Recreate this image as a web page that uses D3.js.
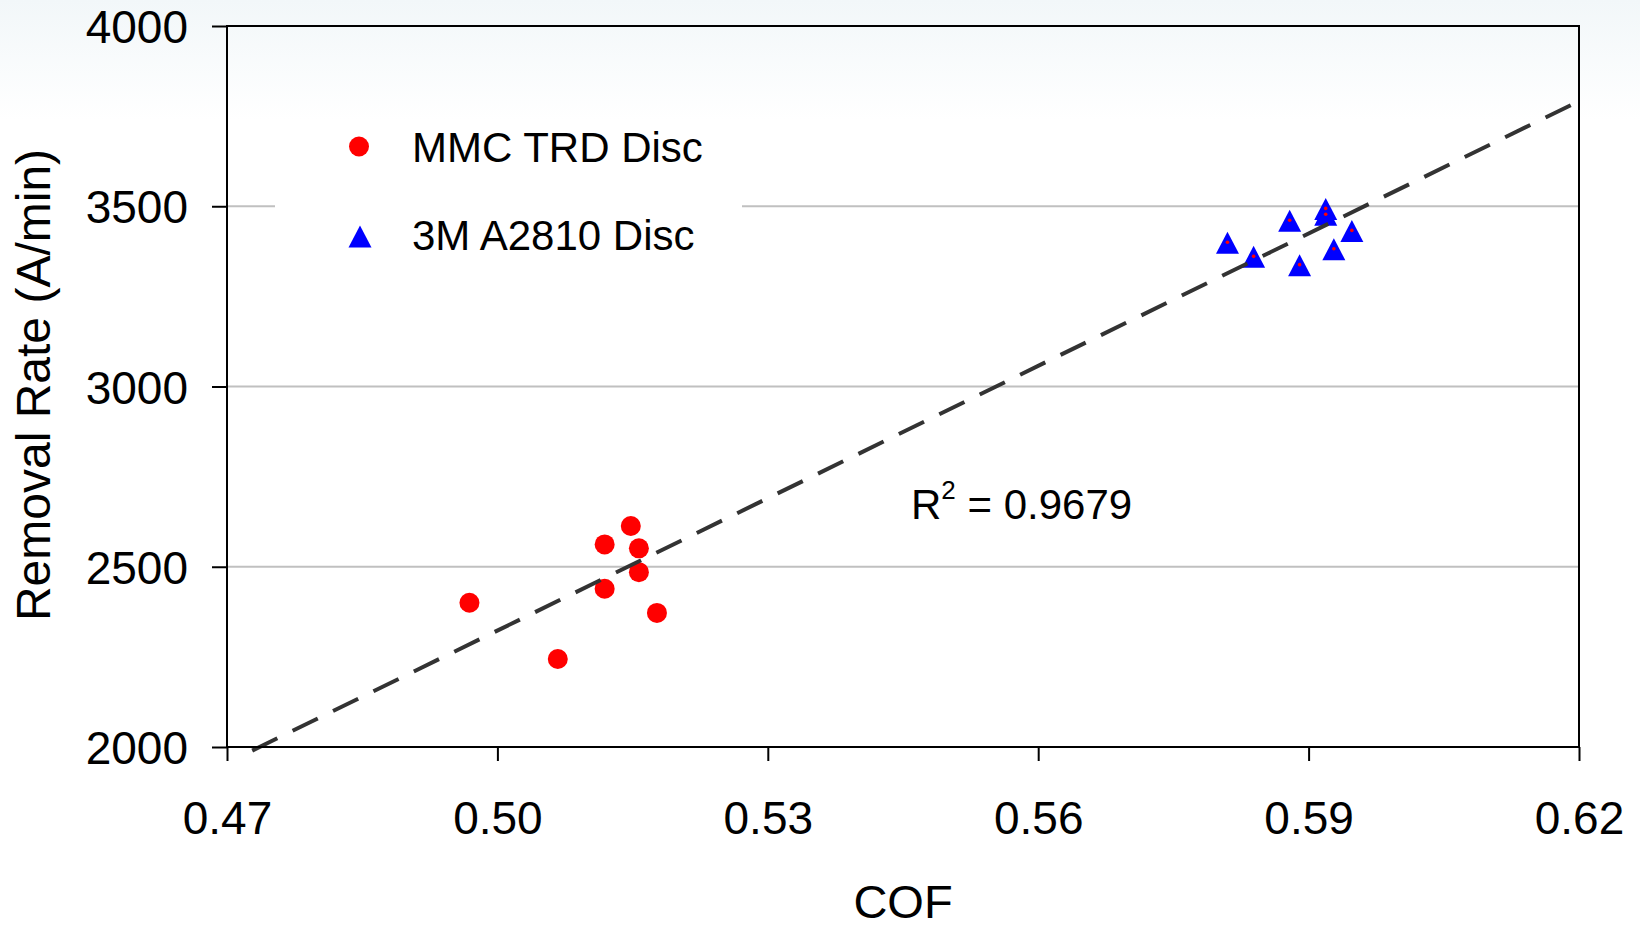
<!DOCTYPE html>
<html lang="en">
  <head>
    <meta charset="utf-8">
    <title>Removal Rate vs COF</title>
    <script src="https://d3js.org/d3.v7.min.js"></script>
    <style>
      body { margin: 0; background: #fff; }
      text { font-family: "Liberation Sans", Arial, sans-serif; fill: #000; }
    </style>
  </head>
  <body>
    <script>
      // values
      var mmcCof  = [0.4969, 0.5067, 0.5119, 0.5119, 0.5148, 0.5157, 0.5157, 0.5177]
      var mmcRate = [2400, 2244, 2562, 2439, 2613, 2551, 2485, 2372]
      var m3Cof   = [0.5810, 0.5839, 0.5879, 0.5890, 0.5919, 0.5919, 0.5928, 0.5948]
      var m3Rate  = [3400, 3361, 3461, 3338, 3494, 3478, 3382, 3433]
      var xTicks = [0.47, 0.50, 0.53, 0.56, 0.59, 0.62]
      var yTicks = [2000, 2500, 3000, 3500, 4000]
      var gridTicks = [2500, 3000, 3500]
      var seriesNames = ["MMC TRD Disc", "3M A2810 Disc"]
      var r2Label = "0.9679"

      var width = 1640, height = 926
      // plot box edges (note: "top" is reserved on window, so use other names)
      var pLeft = 227, pRight = 1579, pTop = 26, pBottom = 747

      var svg = d3.select("body").append("svg")
        .attr("width", width)
        .attr("height", height)

      var defs = svg.append("defs")
      var grad = defs.append("linearGradient")
        .attr("id", "bg").attr("x1", 0).attr("y1", 0).attr("x2", 0).attr("y2", 1)
      grad.append("stop").attr("offset", "0%").attr("stop-color", "#f2f7f9")
      grad.append("stop").attr("offset", "13%").attr("stop-color", "#ffffff")
      grad.append("stop").attr("offset", "100%").attr("stop-color", "#ffffff")

      svg.append("rect")
        .attr("width", width).attr("height", height)
        .attr("fill", "url(#bg)")

      var x = d3.scaleLinear().domain([0.47, 0.62]).range([pLeft, pRight])
      var y = d3.scaleLinear().domain([2000, 4000]).range([pBottom, pTop])

      // gridlines
      svg.selectAll(".grid")
        .data(gridTicks)
        .enter()
        .append("line")
          .attr("x1", pLeft).attr("x2", pRight)
          .attr("y1", function(d) { return y(d) })
          .attr("y2", function(d) { return y(d) })
          .attr("stroke", "#c0c0c0")
          .attr("stroke-width", 2)

      // legend background hides the gridline
      svg.append("rect")
        .attr("x", 275).attr("y", 180)
        .attr("width", 467).attr("height", 50)
        .attr("fill", "#fff")

      var mmc = mmcCof.map(function(c, i) { return {c: c, r: mmcRate[i]} })
      var m3 = m3Cof.map(function(c, i) { return {c: c, r: m3Rate[i]} })

      function tri(cx, cy) {
        return "M" + cx + "," + (cy - 10.5) + "L" + (cx + 11.5) + "," + (cy + 11.5) +
          "L" + (cx - 11.5) + "," + (cy + 11.5) + "Z"
      }

      svg.selectAll(".mmc")
        .data(mmc)
        .enter()
        .append("circle")
          .attr("cx", function(d) { return x(d.c) })
          .attr("cy", function(d) { return y(d.r) })
          .attr("r", 10)
          .attr("fill", "#ff0000")

      svg.selectAll(".m3")
        .data(m3)
        .enter()
        .append("path")
          .attr("d", function(d) { return tri(x(d.c), y(d.r)) })
          .attr("fill", "#0000ff")

      svg.selectAll(".m3dot")
        .data(m3)
        .enter()
        .append("circle")
          .attr("cx", function(d) { return x(d.c) })
          .attr("cy", function(d) { return y(d.r) })
          .attr("r", 1.8)
          .attr("fill", "#ff0000")

      // linear trendline over both series
      var all = mmc.concat(m3)
      var mx = d3.mean(all, function(d) { return d.c })
      var my = d3.mean(all, function(d) { return d.r })
      var sxy = d3.sum(all, function(d) { return (d.c - mx) * (d.r - my) })
      var sxx = d3.sum(all, function(d) { return (d.c - mx) * (d.c - mx) })
      var slope = sxy / sxx
      var icpt = my - slope * mx
      var x0 = (1990 - icpt) / slope
      var trend = [x0, 0.62].map(function(c) { return {c: c, r: icpt + slope * c} })

      svg.append("path")
        .datum(trend)
        .attr("d", d3.line().x(function(d) { return x(d.c) }).y(function(d) { return y(d.r) }))
        .attr("fill", "none")
        .attr("stroke", "#333333")
        .attr("stroke-width", 4)
        .attr("stroke-dasharray", "28,17")

      // axes
      var yAxis = svg.append("g")
        .attr("transform", "translate(" + pLeft + ",0)")
        .call(d3.axisLeft(y).tickValues(yTicks).tickFormat(d3.format("d"))
          .tickSize(15).tickSizeOuter(0).tickPadding(24))
      var xAxis = svg.append("g")
        .attr("transform", "translate(0," + pBottom + ")")
        .call(d3.axisBottom(x).tickValues(xTicks).tickFormat(d3.format(".2f"))
          .tickSize(14).tickSizeOuter(0).tickPadding(40))

      svg.selectAll(".domain").remove()
      svg.selectAll(".tick line").attr("stroke", "#000").attr("stroke-width", 2)
      yAxis.selectAll("text").style("font-size", "46px").attr("dy", "0.36em")
      xAxis.selectAll("text").style("font-size", "46px")

      svg.append("rect")
        .attr("x", pLeft).attr("y", pTop)
        .attr("width", pRight - pLeft).attr("height", pBottom - pTop)
        .attr("fill", "none")
        .attr("stroke", "#000")
        .attr("stroke-width", 2)

      // legend
      svg.append("circle")
        .attr("cx", 359).attr("cy", 146.5).attr("r", 10)
        .attr("fill", "#ff0000")
      svg.append("path")
        .attr("d", tri(360, 236))
        .attr("fill", "#0000ff")
      svg.selectAll(".legtext")
        .data(seriesNames)
        .enter()
        .append("text")
          .attr("x", 412)
          .attr("y", function(d, i) { return i == 0 ? 161.5 : 250 })
          .style("font-size", "42px")
          .text(function(d) { return d })

      // R squared label
      var r2 = svg.append("text")
        .attr("x", 911).attr("y", 519)
        .style("font-size", "42px")
      r2.append("tspan").text("R")
      r2.append("tspan").attr("dy", -20).style("font-size", "26px").text("2")
      r2.append("tspan").attr("dy", 20).text(" = " + r2Label)

      // axis titles
      svg.append("text")
        .attr("x", 903).attr("y", 918)
        .attr("text-anchor", "middle")
        .style("font-size", "47px")
        .text("COF")

      svg.append("text")
        .attr("transform", "translate(50,385) rotate(-90)")
        .attr("text-anchor", "middle")
        .style("font-size", "48px")
        .text("Removal Rate (A/min)")
    </script>
  </body>
</html>
